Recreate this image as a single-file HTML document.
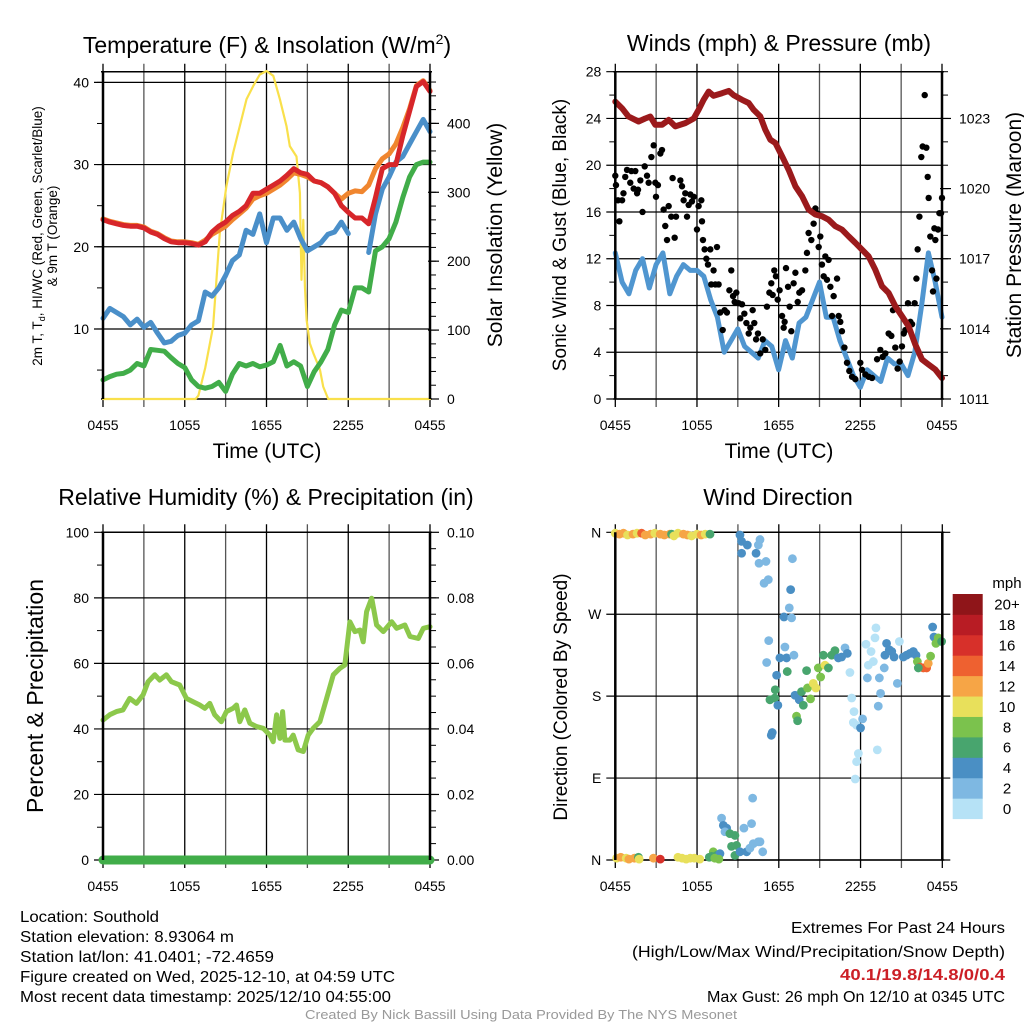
<!DOCTYPE html>
<html><head><meta charset="utf-8"><style>
html,body{margin:0;padding:0;background:#fff;}
svg{display:block;font-family:"Liberation Sans",sans-serif;}
</style></head><body>
<svg id="chart" width="1024" height="1024" viewBox="0 0 1024 1024" xmlns="http://www.w3.org/2000/svg">
<rect width="1024" height="1024" fill="#fff"/>
<text x="267" y="53" font-size="23" text-anchor="middle">Temperature (F) &amp; Insolation (W/m<tspan dy="-9" font-size="14">2</tspan><tspan dy="9">)</tspan></text>
<text x="779" y="51" font-size="23" text-anchor="middle">Winds (mph) &amp; Pressure (mb)</text>
<text x="266" y="505" font-size="23" text-anchor="middle">Relative Humidity (%) &amp; Precipitation (in)</text>
<text x="778" y="505" font-size="23" text-anchor="middle">Wind Direction</text>
<text x="267" y="458" font-size="21" text-anchor="middle">Time (UTC)</text>
<text x="779" y="458" font-size="21" text-anchor="middle">Time (UTC)</text>
<text transform="translate(42,236) rotate(-90)" font-size="13.5" text-anchor="middle">2m T, T<tspan font-size="9" dy="3">d</tspan><tspan dy="-3">, HI/WC (Red, Green, Scarlet/Blue)</tspan></text>
<text transform="translate(57,236) rotate(-90)" font-size="13.5" text-anchor="middle">&amp; 9m T (Orange)</text>
<text transform="translate(502,235) rotate(-90)" font-size="21" text-anchor="middle">Solar Insolation (Yellow)</text>
<text transform="translate(566,235) rotate(-90)" font-size="19" text-anchor="middle">Sonic Wind &amp; Gust (Blue, Black)</text>
<text transform="translate(1021,235) rotate(-90)" font-size="21" text-anchor="middle">Station Pressure (Maroon)</text>
<text transform="translate(43,696) rotate(-90)" font-size="23" text-anchor="middle">Percent &amp; Precipitation</text>
<text transform="translate(567,697) rotate(-90)" font-size="19" text-anchor="middle">Direction (Colored By Speed)</text>
<text x="1007" y="588" font-size="15" text-anchor="middle">mph</text>
<g font-size="15.5">
<text x="20" y="922" textLength="139" lengthAdjust="spacingAndGlyphs">Location: Southold</text>
<text x="20" y="942" textLength="214" lengthAdjust="spacingAndGlyphs">Station elevation: 8.93064 m</text>
<text x="20" y="962" textLength="254" lengthAdjust="spacingAndGlyphs">Station lat/lon: 41.0401; -72.4659</text>
<text x="20" y="982" textLength="375" lengthAdjust="spacingAndGlyphs">Figure created on Wed, 2025-12-10, at 04:59 UTC</text>
<text x="20" y="1002" textLength="371" lengthAdjust="spacingAndGlyphs">Most recent data timestamp: 2025/12/10 04:55:00</text>
<text x="791" y="933" textLength="214" lengthAdjust="spacingAndGlyphs">Extremes For Past 24 Hours</text>
<text x="632" y="957" textLength="373" lengthAdjust="spacingAndGlyphs">(High/Low/Max Wind/Precipitation/Snow Depth)</text>
<text x="840" y="980" textLength="165" lengthAdjust="spacingAndGlyphs" fill="#cc1f26" font-weight="bold">40.1/19.8/14.8/0/0.4</text>
<text x="707" y="1002" textLength="298" lengthAdjust="spacingAndGlyphs">Max Gust: 26 mph On 12/10 at 0345 UTC</text>
<text x="305" y="1019" textLength="432" lengthAdjust="spacingAndGlyphs" font-size="13" fill="#999">Created By Nick Bassill Using Data Provided By The NYS Mesonet</text>
</g>
</svg>
<script>
// ---------- DATA ----------
const timeTickLabels = ["0455","1055","1655","2255","0455"];
const tempHours = [0,0.5,1,1.5,2,2.5,3,3.5,4,4.5,5,5.5,6,6.5,7,7.5,8,8.5,9,9.5,10,10.5,11,11.5,12,12.5,13,13.5,14,14.5,15,15.5,16,16.5,17,17.5,18,18.5,19,19.5,20,20.5,21,21.5,22,22.5,23,23.5,24];
const temp2m = [23.3,23.0,22.8,22.6,22.5,22.5,22.3,21.8,21.5,21.0,20.6,20.5,20.5,20.4,20.2,20.6,21.8,22.5,23.0,23.8,24.3,25.0,26.5,26.5,27.0,27.5,28.0,28.7,29.5,29.0,28.8,28.0,27.8,27.3,26.5,25.0,24.2,23.5,23.5,22.8,26.0,29.5,30.0,30.0,33.5,36.5,39.5,40.1,38.9];
const temp9m = [23.4,23.1,22.9,22.7,22.6,22.6,22.4,21.9,21.6,21.1,20.7,20.6,20.6,20.5,20.3,20.8,21.5,22.0,22.5,23.3,24.0,24.7,25.8,26.2,26.5,27.0,27.5,28.2,29.0,28.8,28.5,28.0,27.8,27.3,26.5,25.8,26.5,26.8,26.7,27.5,29.5,30.7,31.3,32.5,34.5,36.8,39.6,40.2,39.0];
const windChill = [11.3,12.5,12.0,11.5,10.5,11.2,10.2,10.8,9.5,8.3,8.5,9.2,9.5,10.5,11.0,14.5,14.0,15.0,16.5,18.3,19.0,22.0,21.5,24.0,20.5,23.5,23.5,22.0,23.0,21.0,19.5,20.0,20.5,21.5,21.8,23.0,21.6,null,null,19.3,24.0,27.0,28.5,30.3,31.0,32.5,34.0,35.5,34.0];
const dewPoint = [3.8,4.2,4.5,4.6,5.0,5.8,5.5,7.5,7.4,7.3,6.5,5.8,5.3,3.8,3.0,2.8,3.0,3.5,2.4,4.5,5.8,5.5,5.8,5.4,5.6,6.0,8.0,5.5,6.0,5.5,3.0,4.8,6.0,7.5,10.5,12.3,12.0,15.0,15.0,14.5,19.5,20.0,21.0,23.0,26.0,28.5,30.0,30.3,30.3];
const solarHours = [0,6.8,7.0,7.5,8.08,8.57,9.06,9.55,10.04,10.53,11.02,11.51,12.0,12.5,12.98,13.47,13.71,14.2,14.45,14.57,14.7,14.82,14.94,15.18,15.43,15.92,16.16,16.53,24];
const solarValues = [0,0,5,45,105,241,309,357,396,435,454,471,476,469,435,396,367,352,299,173,260,164,115,81,67,43,18,0,0];
const tempTicks = [10,20,30,40];
const solarTicks = [0,100,200,300,400];

const sonicWind = [12.5,10,9,11,12,9.5,11.5,12.5,9,10.5,11.5,11,11,10.5,8.5,7,4,5,6,4.5,4,3.5,5,4.5,2.5,5,3.5,6.5,7,8.5,10,7,7,5,3.5,2,1,2.5,2,1.5,3.5,3,3,2,4,8,12.5,10,7];
const gustHours = [0,0.05,0.2,0.3,0.5,0.6,0.73,0.86,1.1,1.18,1.35,1.47,1.6,1.67,1.84,2.0,2.16,2.33,2.45,2.65,2.82,2.94,2.99,3.13,3.31,3.43,3.55,3.67,3.8,3.92,4.11,4.21,4.36,4.46,4.78,4.9,5.02,5.14,5.27,5.39,5.51,5.63,5.76,6.0,6.12,6.32,6.37,6.44,6.56,6.69,6.81,6.98,7.05,7.22,7.35,7.47,7.59,7.71,7.89,8.03,8.2,8.38,8.52,8.65,8.77,8.89,9.06,9.18,9.31,9.48,9.63,9.8,9.92,10.09,10.21,10.34,10.48,10.65,10.83,11.02,11.14,11.32,11.46,11.56,11.68,11.8,11.93,12.07,12.25,12.37,12.44,12.54,12.69,12.81,12.93,13.1,13.23,13.4,13.52,13.72,13.96,14.08,14.2,14.4,14.57,14.7,14.82,14.94,15.06,15.18,15.31,15.43,15.55,15.67,15.8,15.92,16.04,16.29,16.41,16.53,16.65,16.83,17.02,17.19,17.39,17.63,18.0,18.12,18.37,18.61,18.86,19.23,19.47,19.64,19.84,20.08,20.28,20.4,20.57,20.74,20.89,21.06,21.19,21.31,21.5,21.68,21.8,21.99,22.12,22.21,22.34,22.48,22.58,22.73,22.85,22.95,23.02,23.14,23.27,23.34,23.44,23.51,23.59,23.71,23.81,23.93,24.0];
const gustValues = [19.1,18.3,17,15.2,17,17.6,19,19.6,18.5,19.5,18,19.5,17.6,17.9,18.7,16,19.9,19.1,18.5,20.7,21.7,18.5,17.3,18.3,21,21.3,16.2,14.8,13.6,16.5,15.6,18.9,13.8,15.6,18.7,18.2,17,17.6,15.6,16.6,17.5,16.9,17.3,14.5,16.5,17,15.2,13.6,12.8,12,11.5,12.8,9.8,11,9.8,13,9.8,7.4,5.9,7.6,7.4,9.3,11,8.8,8.3,9.1,8.2,6.9,8.1,7.3,6.5,5.6,6.1,7.6,6.5,5.1,5.6,3.9,5.1,4.2,7.9,9.1,9.9,8.9,11,10.5,8.5,9.3,7.1,6.1,6.6,11.2,9.6,7.9,5.8,9.9,10.8,8.3,9.1,9.3,11,12.5,14.2,13.6,15,16.3,15.9,13,13.9,11.5,10.5,12.2,10.2,11.9,9.6,7.1,8.8,10.3,7.1,6.6,5.8,4.4,3.1,2.4,1.9,1.7,3.1,2.5,2.1,1.9,1.8,3.4,4.2,3.6,3.9,5.6,5.4,7.6,4.4,2.6,3.2,4.5,5.6,5.9,8.2,6.6,6.4,8.2,10.3,12.8,15.6,20.7,21.6,26,21.5,19,17.2,13.9,11,9.2,14.6,13.6,10.3,14.5,15.9,15.9,17.2];
const pressureHours = [0,0.49,0.98,1.71,2.2,2.57,2.94,3.43,3.92,4.41,5.14,5.76,6.12,6.49,6.86,7.22,7.84,8.33,8.69,9.31,9.8,10.16,10.65,11.02,11.39,11.76,12.25,12.74,13.23,13.72,14.2,14.69,15.18,15.67,16.16,16.65,17.14,17.63,18.12,18.61,19.1,19.59,20.08,20.57,21.06,21.55,22.04,22.53,23.02,23.51,24];
const pressureValues = [1023.72,1023.44,1023.08,1022.87,1023.0,1023.08,1022.73,1022.73,1022.94,1022.66,1022.8,1023.0,1023.37,1023.8,1024.15,1023.97,1024.08,1024.18,1024.0,1023.8,1023.66,1023.37,1023.09,1022.52,1022.09,1021.95,1021.38,1020.8,1020.1,1019.67,1019.1,1018.89,1018.82,1018.67,1018.39,1018.25,1017.96,1017.68,1017.39,1017.1,1016.53,1015.82,1015.54,1014.97,1014.54,1014.11,1013.33,1012.69,1012.47,1012.26,1011.9];
const windTicks = [0,4,8,12,16,20,24,28];
const pressureTicks = [1011,1014,1017,1020,1023];

const rhHours = [0,0.49,0.98,1.47,1.96,2.45,2.94,3.31,3.8,4.16,4.65,5.02,5.63,6.12,6.61,7.1,7.47,7.84,8.2,8.69,9.06,9.55,9.8,10.04,10.41,10.78,11.27,11.76,12.25,12.49,12.74,12.98,13.18,13.35,13.72,13.96,14.33,14.7,15.06,15.43,15.92,16.41,16.9,17.39,17.75,18.12,18.49,18.86,19.1,19.35,19.72,20.08,20.57,21.19,21.55,22.16,22.53,23.14,23.51,24];
const rhValues = [42.7,44.3,45.3,45.8,49.3,47.8,50.4,54.4,56.5,54.9,56.5,54.4,53.4,49.3,48.3,47.3,46.3,47.8,44.3,42.2,45.3,46.3,47.3,42.2,45.8,41.7,40.7,40.2,38.1,36.1,44.3,37.1,45.3,36.6,36.6,38.1,33.6,33.1,38.1,40.2,42.2,49.3,56.5,58.5,59.5,72.7,69.7,70.2,66.6,75.8,79.9,71.7,69.7,72.7,70.7,71.7,68.2,67.6,70.7,71.2];
const precipHours = [0,24];
const precipValues = [0,0];
const rhTicks = [0,20,40,60,80,100];
const precipTickLabels = ["0.00","0.02","0.04","0.06","0.08","0.10"];

const dirHours = [0,0.3,0.6,0.9,1.3,1.6,1.93,2.2,2.6,2.9,3.3,3.6,4.0,4.13,4.3,4.6,5.0,5.3,5.6,6.0,6.3,6.6,6.95,
 9.15,9.27,9.69,9.27,10.33,10.5,10.62,10.55,11.06,10.92,11.23,13.0,12.87,12.77,12.38,12.94,11.26,11.11,11.84,12.08,12.45,12.57,13.11,12.62,11.74,11.35,11.71,11.93,11.45,11.52,13.19,13.5,13.8,13.3,13.38,13.67,14.04,14.11,14.33,14.53,14.72,14.9,15.07,15.27,15.39,15.64,15.88,16.12,16.37,16.61,16.86,17.03,17.22,17.35,17.52,17.47,17.71,18.0,18.15,17.84,17.71,17.61,18.4,18.57,18.77,18.94,19.06,19.13,19.23,18.5,19.38,19.3,19.47,19.79,19.91,20.11,20.29,19.74,20.46,20.7,20.85,21.14,21.38,21.63,21.87,22.07,22.17,22.36,22.61,22.85,22.24,22.97,23.14,23.29,23.39,23.53,23.7,23.95,
 7.8,7.93,8.17,8.05,8.41,8.78,8.53,8.9,8.78,9.15,9.44,9.64,10.0,10.08,10.13,10.5,10.62,10.82,9.88,7.19,7.07,7.44,7.68,
 0.1,0.4,0.8,1.0,1.4,1.7,1.75,2.8,3.3,4.6,4.9,5.2,5.5,5.8,6.2,6.9,7.3,7.6];
const dirValues = [359,358,359,357,358,359,359,357,358,359,358,357,358,358,356,359,358,357,356,358,357,358,358,
 357,350,346,337,337,346,352,326,328,304,308,331,297,277,267,266,241,217,203,222,234,222,225,207,187,176,178,170,137,140,181,176,170,158,153,185,208,189,177,194,189,211,201,225,214,211,225,230,222,223,233,227,206,178,163,151,148,145,155,117,108,89,237,214,229,218,244,255,121,200,200,169,183,225,238,231,229,211,223,194,240,223,225,227,229,225,218,212,211,211,211,216,224,256,245,238,244,240,
 46,38,35,31,29,27,15,16,5,9,35,9,40,68,18,20,20,9,13,9,4,5,7,
 2,3,2,1,2,3,1,2,1,3,2,1,2,2,1,3,2,1];
const dirSpeeds = [11,12,13,11,12,10,15,12,13,11,12,13,12,7,10,11,12,13,10,11,12,10,7,
 4,4,4,4,4,3,2,2,2,2,2,2,4,2,4,2,2,2,4,4,2,4,2,6,6,6,6,4,4,4,4,4,6,8,6,6,6,8,8,10,10,8,8,6,10,6,6,6,4,4,2,4,0,1,0,0,0,4,2,0,0,0,0,0,1,0,0,0,0,2,2,2,2,4,4,4,4,2,4,2,1,4,4,4,4,4,8,14,14,14,6,12,8,4,4,8,8,6,
 2,4,4,2,6,6,6,6,6,4,2,4,2,2,2,2,2,2,2,8,6,6,4,
 10,12,10,12,12,6,10,12,16,10,10,10,10,10,10,6,8,8];
const speedColors = ["#b6e2f6","#7eb8e2","#4a8fc4","#48a56e","#7bc24d","#e8e05b","#f6a546","#ee6130","#d7302a","#b81c24","#8f1519"];
const speedLabels = ["0","2","4","6","8","10","12","14","16","18","20+"];
const dirTickLabels = ["N","E","S","W","N"];
const dirTicks = [0,90,180,270,360];

// ---------- DRAWING ----------
const NS = 'http://www.w3.org/2000/svg';
const svg = document.getElementById('chart');
function mk(tag, attrs, parent) {
  const e = document.createElementNS(NS, tag);
  for (const k in attrs) e.setAttribute(k, attrs[k]);
  (parent || svg).appendChild(e);
  return e;
}
function panel(x0, x1, y0, y1, lmin, lmax, rmin, rmax) {
  return {x0, x1, y0, y1,
    xs: h => x0 + (x1 - x0) * h / 24,
    yl: v => y1 - (v - lmin) / (lmax - lmin) * (y1 - y0),
    yr: v => y1 - (v - rmin) / (rmax - rmin) * (y1 - y0)};
}
const P1 = panel(103, 430, 71.7, 399, 1.48, 41.3, 0, 475);
const P2 = panel(615.3, 942, 71.7, 399, 0, 28, 1011, 1025);
const P3 = panel(103, 430, 532.3, 860, 0, 100, 0, 0.1);
const P4 = panel(615.3, 942.3, 532.3, 860, 0, 360, 0, 1);

function drawFrame(P, name, leftTicks, leftLabels, rightTicks, rightLabels, leftMinor, rightMinor, showTop) {
  const g = mk('g', {});
  
  
  for (let k = 0; k <= 8; k++) {
    const x = P.xs(k * 3);
    const l = mk('line', {x1: x, x2: x, y1: P.y0 - (showTop ? 8 : 0), y2: P.y1 + 8, stroke: k % 2 ? '#555' : '#000', 'stroke-width': 1.3}, g);
    
    
  }
  timeTickLabels.forEach((t, i) => {
    const tx = mk('text', {x: P.xs(i * 6), y: P.y1 + 31, 'font-size': 14, 'text-anchor': 'middle'}, g);
    
    
    tx.textContent = t;
  });
  leftTicks.forEach((v, i) => {
    const y = P.yl(v);
    const l = mk('line', {x1: P.x0 - 9, x2: P.x1 + (rightTicks ? 0 : 8), y1: y, y2: y, stroke: '#000', 'stroke-width': 1.2}, g);
    
    
    const tx = mk('text', {x: P.x0 - 14, y: y + 5, 'font-size': 14, 'text-anchor': 'end'}, g);
    
    
    tx.textContent = leftLabels[i];
  });
  leftMinor.forEach(v => {
    const y = P.yl(v);
    const l = mk('line', {x1: P.x0 - 6, x2: P.x0, y1: y, y2: y, stroke: '#000', 'stroke-width': 1}, g);
    
    
  });
  if (rightTicks) {
    rightTicks.forEach((v, i) => {
      const y = P.yr(v);
      const l = mk('line', {x1: P.x1 - 2, x2: P.x1 + 9, y1: y, y2: y, stroke: '#000', 'stroke-width': 1.2}, g);
      
      
      const tx = mk('text', {x: P.x1 + 17, y: y + 5, 'font-size': 14}, g);
      
      
      tx.textContent = rightLabels[i];
    });
    rightMinor.forEach(v => {
      const y = P.yr(v);
      const l = mk('line', {x1: P.x1, x2: P.x1 + 6, y1: y, y2: y, stroke: '#000', 'stroke-width': 1}, g);
      
      
    });
  }
  const t = mk('line', {x1: P.x0 - 2, x2: P.x1 + 2, y1: P.y0, y2: P.y0, stroke: '#000', 'stroke-width': 1.5}, g);
  
  
  const b = mk('line', {x1: P.x0 - 2, x2: P.x1 + 2, y1: P.y1, y2: P.y1, stroke: '#000', 'stroke-width': 1.5}, g);
  
  
}
function frameSides(P, name) {
  const l = mk('line', {x1: P.x0, x2: P.x0, y1: P.y0, y2: P.y1, stroke: '#000', 'stroke-width': 2.5});
  
  
  const r = mk('line', {x1: P.x1, x2: P.x1, y1: P.y0, y2: P.y1, stroke: '#000', 'stroke-width': 2.5});
  
  
}
function line(P, hrs, vals, useRight, color, width, name) {
  let segs = [], cur = [];
  vals.forEach((v, i) => {
    if (v === null) { if (cur.length) segs.push(cur); cur = []; return; }
    cur.push(P.xs(hrs[i]).toFixed(1) + ',' + (useRight ? P.yr(v) : P.yl(v)).toFixed(1));
  });
  if (cur.length) segs.push(cur);
  segs.forEach(s => {
    const p = mk('polyline', {points: s.join(' '), fill: 'none', stroke: color, 'stroke-width': width, 'stroke-linejoin': 'round', 'stroke-linecap': 'round'});
    
    
  });
}
function range(a, b, s) { const r = []; for (let v = a; v <= b + 1e-9; v += s) r.push(+v.toFixed(4)); return r; }

// Panel 1
drawFrame(P1, 'temp', tempTicks, tempTicks.map(String), solarTicks, solarTicks.map(String), range(5, 40, 5), range(20, 460, 20), true);
line(P1, solarHours, solarValues, true, '#f9e04b', 2.2, 'solar-insolation-line');
line(P1, tempHours, dewPoint, false, '#41ad49', 5, 'dewpoint-line');
line(P1, tempHours, windChill, false, '#4a8fc9', 5, 'wind-chill-line');
line(P1, tempHours, temp9m, false, '#f0862f', 5, 'temp-9m-line');
line(P1, tempHours, temp2m, false, '#d7262a', 5, 'temp-2m-line');
frameSides(P1, 'temp');

// Panel 2
drawFrame(P2, 'wind', windTicks, windTicks.map(String), pressureTicks, pressureTicks.map(String), range(2, 26, 4), range(1011, 1025, 1), true);
line(P2, tempHours, sonicWind, false, '#5096d0', 5, 'sonic-wind-line');
gustHours.forEach((h, i) => {
  const c = mk('circle', {cx: P2.xs(h), cy: P2.yl(gustValues[i]), r: 3.2, fill: '#000'});
  
  
});
line(P2, pressureHours, pressureValues, true, '#9b1a1c', 6, 'pressure-line');
frameSides(P2, 'wind');

// Panel 3
drawFrame(P3, 'humidity', rhTicks, rhTicks.map(String), rhTicks.map(v => v / 1000), precipTickLabels, range(10, 90, 20), range(0.005, 0.095, 0.005), true);
line(P3, rhHours, rhValues, false, '#8cc84b', 5, 'relative-humidity-line');
line(P3, precipHours, precipValues, true, '#41ad49', 9, 'precipitation-line');
frameSides(P3, 'humidity');

// Panel 4
drawFrame(P4, 'direction', dirTicks, dirTickLabels, null, null, [], [], true);
dirHours.forEach((h, i) => {
  const idx = Math.min(10, Math.floor(dirSpeeds[i] / 2));
  const c = mk('circle', {cx: P4.xs(h), cy: P4.yl(dirValues[i]), r: 4.4, fill: speedColors[idx]});
  
  
});
frameSides(P4, 'direction');

// Colorbar
const cbTop = 594, cbBot = 818.7, cbH = (cbBot - cbTop) / speedColors.length;
speedColors.forEach((col, i) => {
  const y = cbBot - (i + 1) * cbH;
  const r = mk('rect', {x: 952.7, y: y, width: 30, height: cbH + 0.4, fill: col});
  
  
  const t = mk('text', {x: 1007, y: y + cbH / 2 + 5.5, 'font-size': 15, 'text-anchor': 'middle'});
  
  
  t.textContent = speedLabels[i];
});
</script>
</body></html>
